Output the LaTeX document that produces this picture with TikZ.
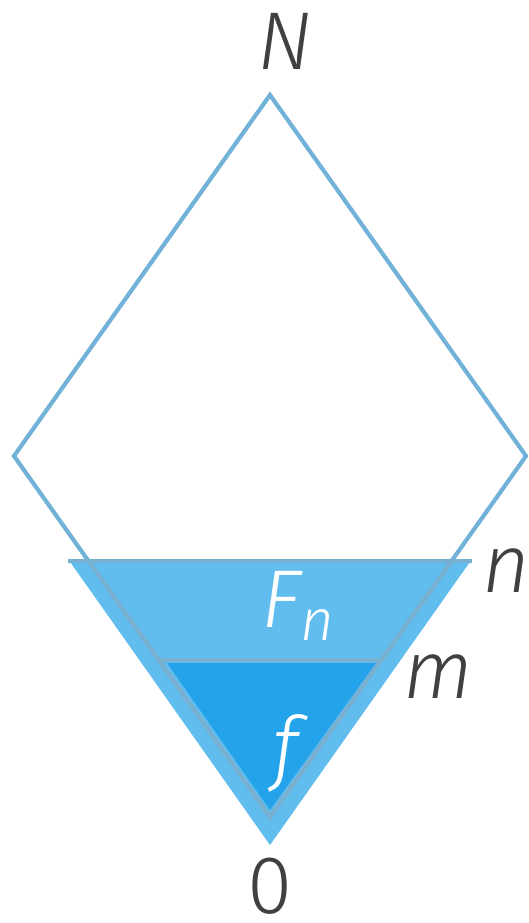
\documentclass[tikz,border=0pt]{standalone}
\usepackage{fontspec}
\setmainfont{Fira Sans Light}[ItalicFont={Fira Sans Light Italic}]
\usepackage{tikz}
\usetikzlibrary{calc}

\definecolor{rimblue}{RGB}{115,178,216}
\definecolor{seamgray}{RGB}{120,176,210}
\definecolor{fnblue}{RGB}{98,189,239}
\definecolor{fblue}{RGB}{37,163,234}
\definecolor{inkgray}{RGB}{64,64,64}

\begin{document}
\begin{tikzpicture}[
    x=1pt, y=-1pt,
    rim/.style={draw=rimblue, line width=4.2pt, line join=miter},
    seam/.style={draw=seamgray, line width=4.2pt, line join=miter},
    letter/.style={text=inkgray, inner sep=0pt, anchor=base, font=\fontsize{82}{82}\selectfont\itshape}
]
    \useasboundingbox (0,0) rectangle (528,923);

    \coordinate (top) at (270,95);
    \coordinate (left) at (14,456);
    \coordinate (right) at (526,456);
    \coordinate (bot) at (270,817);

    \fill[fnblue] (68,559) -- (472,559) -- (270,845) -- cycle;
    \fill[fblue] (167,663) -- (376,663) -- (270,810) -- cycle;

    \draw[rim] (top) -- (right) -- (bot) -- (left) -- cycle;
    \draw[seam] (68,561) -- (472,561);
    \draw[seam] (159,660) -- (381,660);
    \draw[seam] (88.5,561) -- (bot) -- (451.5,561);

    \node[letter] (N) at (285,70) {N};
    \node[letter, font=\fontsize{82}{82}\selectfont\upshape] (zero) at (270,913) {0};
    \node[letter] (n) at (506,592) {n};
    \node[letter] (m) at (438,698) {m};
    \node[letter, text=white] (Fn) at (298,627) {F\raisebox{-13pt}{\fontsize{58}{58}\selectfont n}};
    \node[letter, text=white] (f) at (286,775) {f};
\end{tikzpicture}
\end{document}
